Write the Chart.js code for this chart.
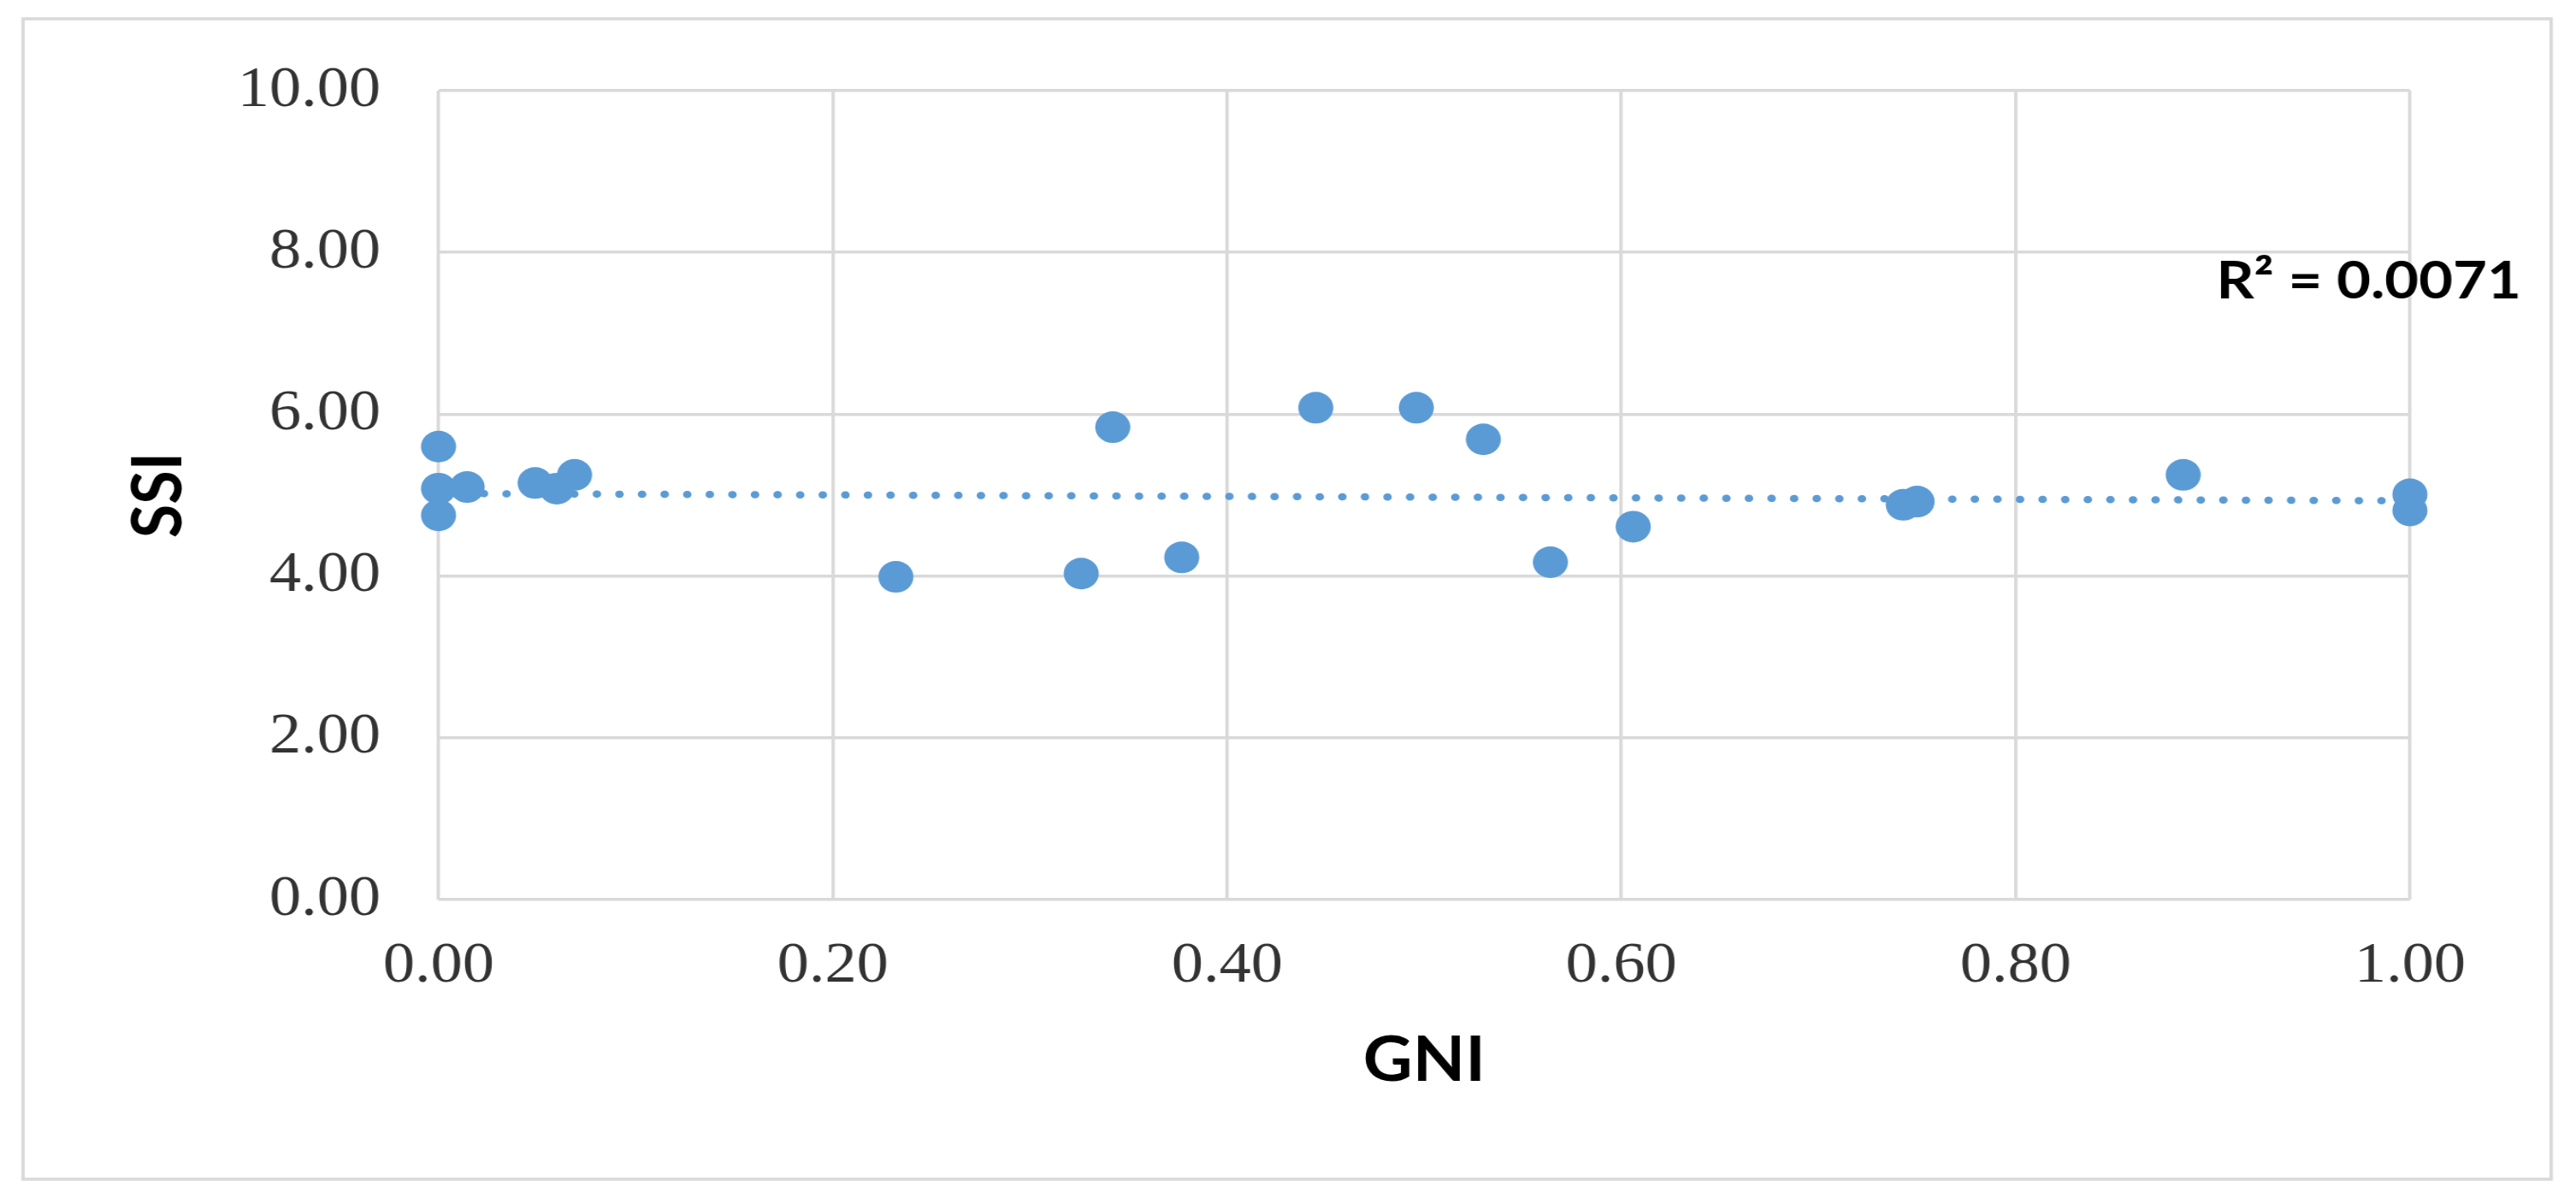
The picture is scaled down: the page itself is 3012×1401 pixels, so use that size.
<!DOCTYPE html>
<html>
<head>
<meta charset="utf-8">
<script src="https://cdn.jsdelivr.net/npm/chart.js@4"></script>
<style>
  html, body { margin: 0; padding: 0; background: #ffffff; overflow: hidden; }
  #c { position: absolute; left: 0; top: 0; width: 2714px; height: 1401px; transform: scaleX(1.10981); transform-origin: 0 0; }
</style>
</head>
<body>
<canvas id="c" width="2714" height="1401"></canvas>
<script>
// ---- data ----
const gniValues = [0.000, 0.000, 0.000, 0.0145, 0.049, 0.060, 0.069, 0.232, 0.326, 0.342, 0.377, 0.445, 0.496, 0.530, 0.564, 0.606, 0.743, 0.750, 0.885, 1.000, 1.000];
const ssiValues = [5.60, 5.08, 4.75, 5.10, 5.15, 5.08, 5.25, 3.99, 4.03, 5.84, 4.23, 6.08, 6.08, 5.69, 4.17, 4.61, 4.88, 4.92, 5.25, 5.01, 4.81];
const trendX = [0, 1];
const trendY = [5.02, 4.93];
const xTickValues = [0, 0.2, 0.4, 0.6, 0.8, 1.0];
const xTickLabels = ['0.00', '0.20', '0.40', '0.60', '0.80', '1.00'];
const yTickValues = [0, 2, 4, 6, 8, 10];
const yTickLabels = ['0.00', '2.00', '4.00', '6.00', '8.00', '10.00'];
const xTitle = 'GNI';
const yTitle = 'SSI';
const r2Label = 'R² = 0.0071';

const pointColor = '#5B9BD5';
const gridColor = '#d9d9d9';

const scatterPoints = gniValues.map((x, i) => ({ x: x, y: ssiValues[i] }));
const trendPoints = trendX.map((x, i) => ({ x: x, y: trendY[i] }));

const frameAndLabel = {
  id: 'frameAndLabel',
  beforeDraw(chart) {
    const ctx = chart.ctx;
    ctx.save();
    ctx.fillStyle = '#ffffff';
    ctx.fillRect(0, 0, chart.width, chart.height);
    ctx.strokeStyle = gridColor;
    ctx.lineWidth = 3.5;
    ctx.strokeRect(24.3, 22, 2663.5, 1357);
    ctx.restore();
  },
  afterDraw(chart) {
    const ctx = chart.ctx;
    const area = chart.chartArea;
    ctx.save();
    ctx.font = 'bold 62px Lato';
    ctx.fillStyle = '#000000';
    ctx.textAlign = 'left';
    ctx.textBaseline = 'alphabetic';
    ctx.fillText(r2Label, area.right - 204, 349);
    ctx.restore();
  }
};

new Chart(document.getElementById('c'), {
  type: 'scatter',
  data: {
    datasets: [
      {
        label: 'SSI',
        data: scatterPoints,
        backgroundColor: pointColor,
        borderColor: pointColor,
        pointRadius: 18.5,
        pointBorderWidth: 0,
        clip: false,
        order: 2
      },
      {
        label: 'Trend',
        data: trendPoints,
        showLine: true,
        borderColor: pointColor,
        borderWidth: 8.5,
        borderDash: [0.5, 23.3],
        borderCapStyle: 'round',
        pointRadius: 0,
        fill: false,
        clip: false,
        order: 1
      }
    ]
  },
  options: {
    responsive: false,
    devicePixelRatio: 1,
    animation: false,
    layout: { padding: { left: 0, right: 175, top: 106, bottom: 0 } },
    plugins: { legend: { display: false }, tooltip: { enabled: false } },
    scales: {
      x: {
        type: 'linear',
        min: 0,
        max: 1,
        afterBuildTicks: (scale) => { scale.ticks = xTickValues.map(v => ({ value: v })); },
        afterFit: (scale) => { scale.height = 349; },
        grid: { color: gridColor, lineWidth: 3.5, drawTicks: false },
        border: { display: false },
        ticks: {
          padding: 38,
          color: '#333333',
          font: { family: '"Liberation Serif", "Times New Roman", serif', size: 67, lineHeight: 1.2 },
          callback: (v, i) => xTickLabels[i]
        },
        title: {
          display: true,
          text: xTitle,
          color: '#000000',
          font: { family: 'Lato', weight: 'bold', size: 72, lineHeight: 1 },
          padding: { top: 0, bottom: 124 }
        }
      },
      y: {
        type: 'linear',
        min: 0,
        max: 10,
        afterBuildTicks: (scale) => { scale.ticks = yTickValues.map(v => ({ value: v })); },
        afterFit: (scale) => { scale.width = 462; },
        grid: { color: gridColor, lineWidth: 3.5, drawTicks: false },
        border: { display: false },
        ticks: {
          padding: 61,
          color: '#333333',
          font: { family: '"Liberation Serif", "Times New Roman", serif', size: 67, lineHeight: 1.2 },
          callback: (v, i) => yTickLabels[i]
        },
        title: {
          display: true,
          text: yTitle,
          color: '#000000',
          font: { family: 'Lato', weight: 'bold', size: 72, lineHeight: 1 },
          padding: { top: 132, bottom: 0 }
        }
      }
    }
  },
  plugins: [frameAndLabel]
});
</script>
</body>
</html>
